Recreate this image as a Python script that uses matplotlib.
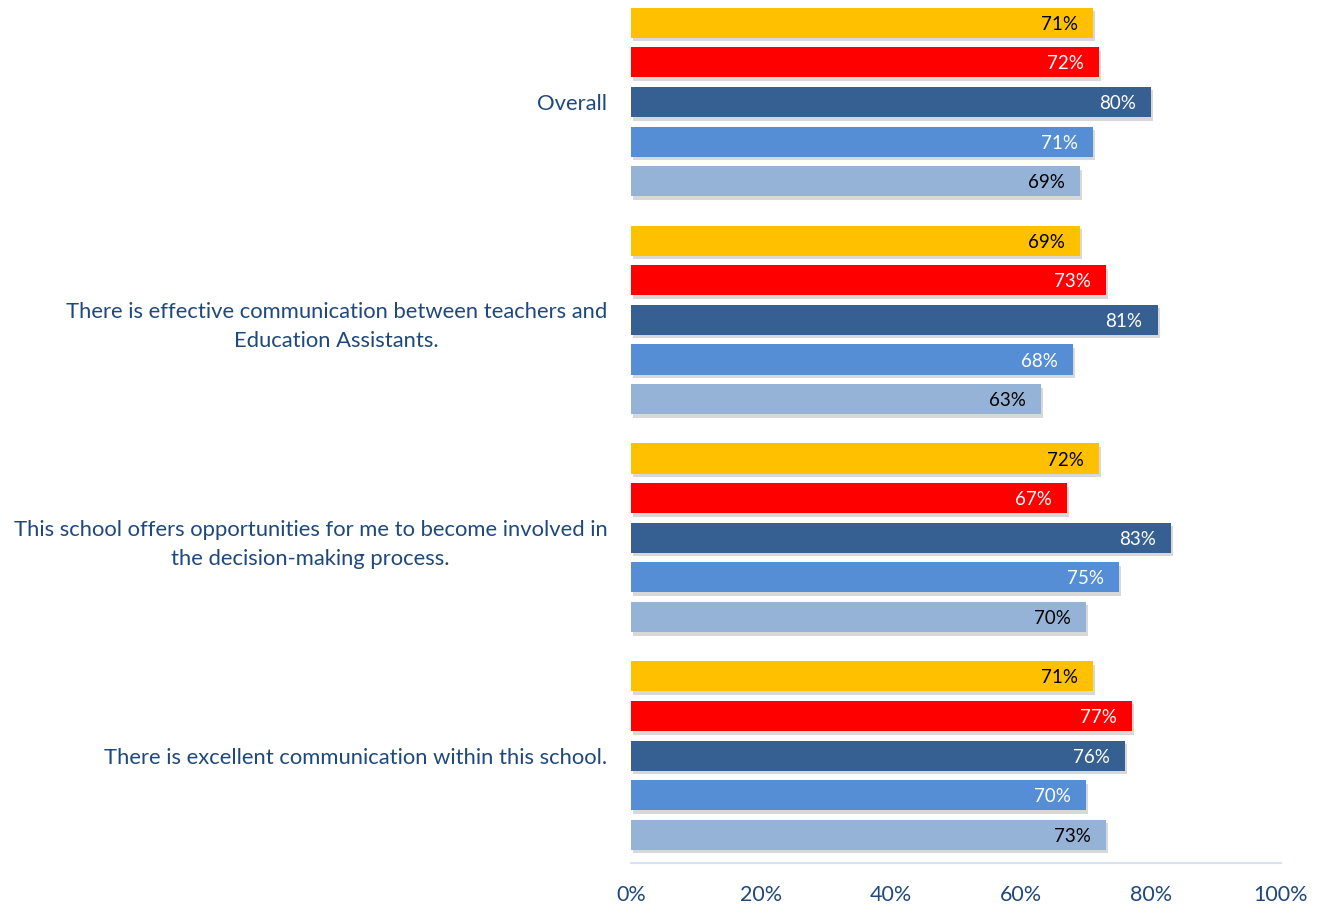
import numpy as np
import matplotlib.pyplot as plt
import matplotlib.patheffects as pe

plt.rcParams['font.family'] = ['Lato', 'DejaVu Sans']

# Survey items, top to bottom
categories = [
    "Overall",
    "There is effective communication between teachers and\nEducation Assistants.",
    "This school offers opportunities for me to become involved in\nthe decision-making process.",
    "There is excellent communication within this school.",
]

# One list per series (bar order within each group, top to bottom)
series_1 = [71, 69, 72, 71]
series_2 = [72, 73, 67, 77]
series_3 = [80, 81, 83, 76]
series_4 = [71, 68, 75, 70]
series_5 = [69, 63, 70, 73]
series = [series_1, series_2, series_3, series_4, series_5]

bar_colors = ["#FFC000", "#FF0000", "#376092", "#558ED5", "#95B3D7"]
label_colors = ["black", "white", "white", "white", "black"]
text_color = "#1F497D"

fig = plt.figure(figsize=(13.23, 9.09), dpi=100)
ax = fig.add_axes([631 / 1323, 46 / 909, 650 / 1323, 860 / 909])

group_pitch = 5.5
bar_h = 0.76
shadow = [pe.SimplePatchShadow(offset=(1.5, -2.5), shadow_rgbFace="gray", alpha=0.3), pe.Normal()]

for j, vals in enumerate(series):
    y = np.arange(len(categories)) * group_pitch + j
    bars = ax.barh(y, vals, height=bar_h, color=bar_colors[j], zorder=3)
    for b in bars:
        b.set_path_effects(shadow)
    for yy, v in zip(y, vals):
        ax.text(v - 2.3, yy, f"{v}%", ha="right", va="center_baseline",
                color=label_colors[j], fontsize=13.5, zorder=4)

ax.set_xlim(0, 100)
ax.set_ylim(3 * group_pitch + 4 + 0.71, -0.5)
ax.set_xticks(np.arange(0, 101, 20))
ax.set_xticklabels([f"{t}%" for t in range(0, 101, 20)])
ax.set_yticks(np.arange(len(categories)) * group_pitch + 2)
ax.set_yticklabels(categories)
for lbl in ax.get_yticklabels():
    lbl.set_multialignment("center")
    lbl.set_linespacing(1.55)

ax.tick_params(axis="x", length=0, pad=16, labelsize=15.5, labelcolor=text_color)
ax.tick_params(axis="y", length=0, pad=17, labelsize=15.8, labelcolor=text_color)

for s in ["top", "right", "left"]:
    ax.spines[s].set_visible(False)
ax.spines["bottom"].set_color("#D6E3F4")
ax.spines["bottom"].set_linewidth(1.5)

fig.savefig("out.png", dpi=100)
